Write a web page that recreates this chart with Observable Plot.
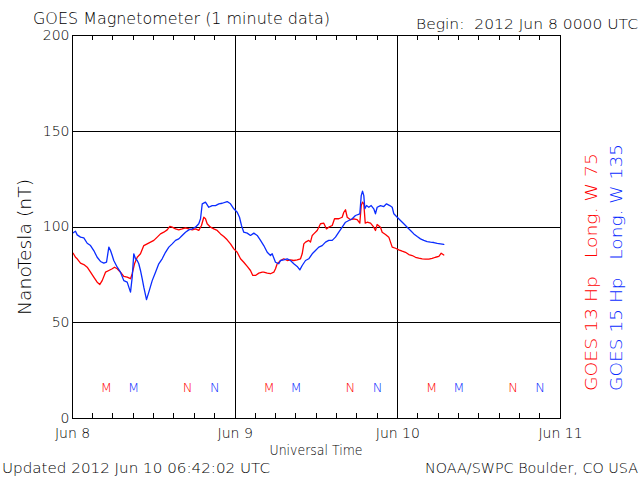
<!DOCTYPE html>
<html><head><meta charset="utf-8">
<script src="https://cdn.jsdelivr.net/npm/d3@7"></script>
<script src="https://cdn.jsdelivr.net/npm/@observablehq/plot@0.6"></script>
<style>body{margin:0;background:#fff} svg{display:block}</style>
</head><body><div id="chart"></div>
<script>
const dayLabels = ["Jun 8", "Jun 9", "Jun 10", "Jun 11"];
const dayHours = [0, 24, 48, 72];
const yTicks = [0, 50, 100, 150, 200];
const gridValues = [50, 100, 150];
const minorTickHours = d3.range(3, 72, 3);

// GOES 13 (red) — hours since 2012 Jun 8 00:00 UTC, nT
const g13Hours = [0.1,0.44,0.69,1.18,1.67,2.17,2.66,3.14,3.64,4.03,4.38,4.87,5.36,5.86,6.2,6.6,7.08,7.57,8.07,8.56,8.81,9.15,9.55,10.03,10.52,11.02,11.51,12,12.5,12.98,13.47,13.97,14.36,14.71,15.2,15.68,16.18,16.67,17.16,17.66,18.15,18.63,19.03,19.37,19.62,19.87,20.36,20.85,21.35,21.84,22.32,22.82,23.31,23.8,24.3,24.79,25.27,25.78,26.26,26.6,27,27.49,27.99,28.22,28.73,29.21,29.7,29.95,30.2,30.44,30.69,31.17,31.68,32.16,32.65,33.15,33.64,33.89,34.13,34.38,34.86,35.11,35.37,35.6,36.1,36.34,36.59,37.08,37.47,37.81,38.32,38.66,39.29,39.79,40.03,40.28,40.53,41.02,41.5,42.0,42.39,42.6,42.79,42.98,43.19,43.48,43.97,44.45,44.7,44.95,45.44,45.69,46.18,46.67,46.92,47.17,47.66,48.14,48.64,49.13,49.62,50.12,50.61,51.09,51.6,52.08,52.57,53.07,53.56,54.05,54.4,54.78];
const g13Values = [86.3,84.2,83.4,81.1,80.4,79,76.4,73.8,71.2,70,72,76.4,77.3,78.2,79,78.2,76.4,74.2,73.8,73,75.6,80.8,84.2,86,90.3,91.2,92.1,93,94.7,96.4,97.3,98.5,100.3,99.9,99,98.5,99,99.6,99,98.5,99,98.2,100.8,105.1,104.3,101.7,99.9,99,98.2,96.4,95,93.3,91.2,88.6,86.8,83.4,81.6,79.4,77.3,74.7,74.7,75.9,76.4,76.4,75.9,75.6,76.4,78.2,80.8,81.6,82.5,83.4,82.5,82.8,82.5,82.8,83.4,86,91.2,92.1,93,92.1,95.6,96.4,98.2,99.9,101.7,102,99,99.9,100.8,104.3,104.3,105.1,107.7,109,105.1,103.8,104.3,103.8,102,111.2,113,112.1,102,102.5,102,99.9,98.2,101.3,99.9,97.3,96.1,94.7,92.1,89.5,88.9,88.1,87.4,86.8,85.6,85.1,84.2,83.7,83.4,83.2,83.2,83.6,84.2,84.6,86.3,85.4];

// GOES 15 (blue)
const g15Hours = [0.1,0.44,0.69,1.18,1.67,2.17,2.66,3.14,3.64,4.13,4.62,5.02,5.36,5.61,5.86,6.09,6.6,7.08,7.57,8.07,8.31,8.56,8.81,9.04,9.3,9.55,9.78,10.03,10.28,10.52,10.92,11.26,11.76,12.25,12.73,13.23,13.72,14.21,14.71,15.2,15.68,16.18,16.67,17.16,17.66,18.15,18.63,18.89,19.14,19.62,20.11,20.61,21.1,21.59,22.09,22.82,23.31,23.8,24.3,24.64,24.93,25.27,25.78,26.26,26.75,27.25,27.74,28.22,28.73,29.21,29.46,29.95,30.44,30.69,31.17,31.68,32.16,32.65,33.15,33.54,33.89,34.38,34.86,35.37,35.85,36.34,36.84,37.33,37.81,38.32,38.8,39.29,39.79,40.28,40.77,41.27,41.75,42.39,42.6,42.79,42.98,43.13,43.38,43.72,44.07,44.45,44.7,44.95,45.44,45.93,46.33,46.81,47.17,47.41,47.91,48.39,48.88,49.38,49.87,50.36,50.86,51.34,51.83,52.33,52.82,53.31,53.81,54.29,54.78];
const g15Values = [97,97.8,95.9,94.7,94.3,91.5,90.3,87.7,84.2,82,81.1,81.6,89.5,87.7,85.1,82.5,79,76.4,72,71.2,68.6,66,73.8,86,83.4,82.5,80.8,77.3,73,68.6,62.1,66,72,76.4,80.8,83.4,86.8,89.5,91.2,93,93.8,95.6,97.3,98.5,99,99.9,101.7,104.3,112.1,113,110.3,111.2,111.2,112.1,112.4,113.3,112.1,109.5,107.7,105.1,100.8,97.3,96.8,95.6,96.8,95.6,93,90.3,86.8,85.1,86,81.6,80.8,82.5,82.8,83.4,82.5,80.8,79.4,77.6,79.9,82.5,83.4,86,87.7,89.5,90.3,92.1,93,93,94.7,97.3,99.9,102.5,103.4,104.3,106,106.9,116.4,118.7,116.4,109.5,111.2,110.3,111.2,109.5,106.9,110.3,111.2,110.7,112.1,111.2,110.3,106.9,105.1,103.4,101.7,99.9,98.2,96.4,95,93.8,93,92.4,92.1,91.9,91.5,91.2,90.9];

// Local midnight (M) / noon (N) markers
const markerHours = [5, 9, 17, 21, 29, 33, 41, 45, 53, 57, 65, 69];
const markerLabels = ["M","M","N","N","M","M","N","N","M","M","N","N"];
const markerSat = ["13","15","13","15","13","15","13","15","13","15","13","15"];
const markerLevel = 16;

const RED = "#ff0000", BLUE = "#0a2cff";
const g13 = g13Hours.map((h, i) => ({h, v: g13Values[i]}));
const g15 = g15Hours.map((h, i) => ({h, v: g15Values[i]}));
const markers = markerHours.map((h, i) => ({h, v: markerLevel, label: markerLabels[i], sat: markerSat[i]}));

const FONT = "DejaVu Sans, sans-serif";
const plot = Plot.plot({
  width: 640, height: 480,
  marginLeft: 72, marginRight: 80, marginTop: 35, marginBottom: 62,
  style: {fontFamily: FONT, fontSize: "14px", fontWeight: 200, background: "#fff", color: "#000", overflow: "visible"},
  x: {domain: [0, 72]},
  y: {domain: [0, 200]},
  marks: [
    Plot.ruleY(gridValues, {stroke: "#000", strokeWidth: 1, shapeRendering: "crispEdges"}),
    Plot.ruleX(dayHours.slice(1, 3), {stroke: "#000", strokeWidth: 1, shapeRendering: "crispEdges"}),
    Plot.axisY({ticks: yTicks, tickSize: 0, tickPadding: 3, label: null, fontSize: 14}),
    Plot.axisX({ticks: dayHours, tickFormat: d => dayLabels[dayHours.indexOf(d)], tickSize: 0, tickPadding: 10, label: null, fontSize: 14}),
    Plot.line(g13, {x: "h", y: "v", stroke: RED, strokeWidth: 1.3}),
    Plot.line(g15, {x: "h", y: "v", stroke: BLUE, strokeWidth: 1.3}),
    Plot.text(markers.filter(d => d.sat === "13"), {x: "h", y: "v", text: "label", fill: RED, fontSize: 13}),
    Plot.text(markers.filter(d => d.sat === "15"), {x: "h", y: "v", text: "label", fill: BLUE, fontSize: 13}),
    Plot.frame({stroke: "#000", strokeWidth: 1, shapeRendering: "crispEdges"})
  ]
});
document.getElementById("chart").appendChild(plot);

const svg = d3.select(plot);
const xs = plot.scale("x"), ys = plot.scale("y");
const yTop = ys.apply(200), yBot = ys.apply(0);
minorTickHours.filter(h => h % 24 !== 0).forEach(h => {
  const px = xs.apply(h);
  svg.append("line").attr("x1", px).attr("x2", px).attr("y1", yBot).attr("y2", yBot - 5).attr("stroke", "#000").attr("shape-rendering", "crispEdges");
  svg.append("line").attr("x1", px).attr("x2", px).attr("y1", yTop).attr("y2", yTop + 5).attr("stroke", "#000").attr("shape-rendering", "crispEdges");
});

function label(txt, opts) {
  const t = svg.append("text").text(txt)
    .attr("font-family", FONT).attr("font-size", opts.size || 14)
    .attr("font-weight", 200)
    .attr("fill", opts.fill || "#000")
    .attr("text-anchor", opts.anchor || "start")
    .style("white-space", "pre");
  if (opts.len) t.attr("textLength", opts.len).attr("lengthAdjust", "spacingAndGlyphs");
  if (opts.rotate) t.attr("transform", `translate(${opts.x},${opts.y}) rotate(-90)`);
  else t.attr("x", opts.x).attr("y", opts.y);
  return t;
}
label("GOES Magnetometer (1 minute data)", {x: 33, y: 24, size: 15, len: 297});
label("Begin:  2012 Jun 8 0000 UTC", {x: 416, y: 29, size: 14, len: 222});
label("NanoTesla (nT)", {x: 31, y: 247, size: 17, len: 136, anchor: "middle", rotate: true});
label("Universal Time", {x: 316, y: 455, size: 14, len: 93, anchor: "middle"});
label("Updated 2012 Jun 10 06:42:02 UTC", {x: 2, y: 473, size: 14, len: 268});
label("NOAA/SWPC Boulder, CO USA", {x: 425, y: 473, size: 14, len: 213});
label("GOES 13 Hp   Long. W 75", {x: 597, y: 391, size: 16, len: 238, fill: RED, rotate: true});
label("GOES 15 Hp   Long. W 135", {x: 622, y: 391, size: 16, len: 247, fill: BLUE, rotate: true});
</script></body></html>
